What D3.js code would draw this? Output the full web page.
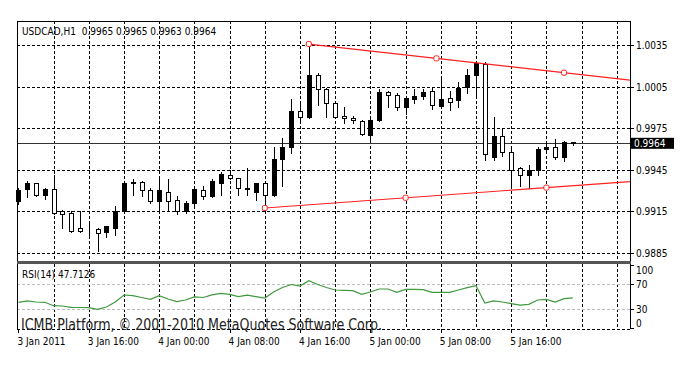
<!DOCTYPE html>
<html>
<head>
<meta charset="utf-8">
<script src="https://cdn.jsdelivr.net/npm/d3@7"></script>
<style>
  body { margin: 0; background: #fff; }
  svg { display: block; }
  text { font-family: "DejaVu Sans Condensed", "Liberation Sans", sans-serif; font-size: 10px; fill: #000; }
</style>
</head>
<body>
<svg id="chart" width="688" height="366"></svg>
<script>
// USDCAD H1 candles, one per hour starting 3 Jan 2011 08:00
let opens = [
  0.9922, 0.9931, 0.9935, 0.9927, 0.9931, 0.9915, 0.9914, 0.9903, 0.9901, 0.9902,
  0.9900, 0.9903, 0.9915, 0.9935, 0.9936, 0.9930, 0.9922, 0.9929, 0.9923, 0.9915,
  0.9921, 0.9930, 0.9926, 0.9935, 0.9941, 0.9939, 0.9932, 0.9929, 0.9935, 0.9927,
  0.9953, 0.9961, 0.9987, 0.9983, 1.0013, 1.0003, 0.9993, 0.9984, 0.9982, 0.9980,
  0.9970, 0.9981, 1.0001, 0.9999, 0.9990, 0.9996, 0.9998, 1.0002, 0.9991, 0.9997,
  0.9995, 1.0005, 1.0013, 1.0021, 0.9954, 0.9969, 0.9958, 0.9946, 0.9941, 0.9945,
  0.9960, 0.9961, 0.9954, 0.9965];
let highs = [
  0.9932, 0.9937, 0.9935, 0.9932, 0.9941, 0.9916, 0.9915, 0.9915, 0.9908, 0.9903,
  0.9904, 0.9919, 0.9936, 0.9938, 0.9937, 0.9932, 0.9938, 0.9938, 0.9926, 0.9922,
  0.9932, 0.9933, 0.9938, 0.9943, 0.9945, 0.9939, 0.9946, 0.9935, 0.9935, 0.9961,
  0.9968, 0.9996, 0.9994, 1.0036, 1.0015, 1.0004, 0.9993, 0.9990, 0.9984, 0.9981,
  0.9982, 1.0003, 1.0002, 1.0000, 0.9998, 1.0003, 1.0003, 1.0004, 1.0012, 1.0002,
  1.0008, 1.0018, 1.0023, 1.0023, 0.9983, 0.9974, 0.9961, 0.9947, 0.9948, 0.9961,
  0.9965, 0.9967, 0.9966, 0.9965];
let lows = [
  0.9920, 0.9925, 0.9926, 0.9924, 0.9913, 0.9903, 0.9900, 0.9900, 0.9897, 0.9886,
  0.9896, 0.9898, 0.9914, 0.9927, 0.9926, 0.9921, 0.9916, 0.9916, 0.9913, 0.9914,
  0.9919, 0.9924, 0.9925, 0.9927, 0.9938, 0.9927, 0.9927, 0.9923, 0.9917, 0.9926,
  0.9933, 0.9957, 0.9979, 0.9982, 0.9992, 0.9983, 0.9982, 0.9979, 0.9979, 0.9970,
  0.9965, 0.9980, 0.9990, 0.9988, 0.9985, 0.9993, 0.9996, 0.9989, 0.9990, 0.9988,
  0.9990, 1.0000, 0.9997, 0.9952, 0.9952, 0.9955, 0.9932, 0.9933, 0.9932, 0.9941,
  0.9957, 0.9953, 0.9951, 0.9963];
let closes = [
  0.9930, 0.9935, 0.9927, 0.9931, 0.9914, 0.9913, 0.9901, 0.9901, 0.9901, 0.9899,
  0.9904, 0.9915, 0.9935, 0.9936, 0.9930, 0.9922, 0.9930, 0.9922, 0.9915, 0.9921,
  0.9931, 0.9926, 0.9937, 0.9942, 0.9939, 0.9932, 0.9931, 0.9935, 0.9927, 0.9953,
  0.9961, 0.9987, 0.9983, 1.0013, 1.0003, 0.9993, 0.9983, 0.9982, 0.9981, 0.9971,
  0.9981, 1.0001, 0.9999, 0.9990, 0.9997, 0.9998, 1.0001, 0.9992, 0.9996, 0.9994,
  1.0004, 1.0013, 1.0022, 0.9956, 0.9969, 0.9958, 0.9945, 0.9941, 0.9945, 0.9960,
  0.9961, 0.9954, 0.9965, 0.9964];
let rsiValues = [
  40.7, 43.1, 41.2, 40.7, 35.3, 34.8, 32.7, 32.4, 32.1, 29.5,
  33.2, 41.2, 52.4, 51.3, 48.4, 45.5, 51.3, 46.0, 41.7, 44.4,
  49.5, 48.4, 52.7, 55.1, 53.5, 49.8, 52.1, 49.8, 47.6, 57.2,
  64.4, 69.2, 66.8, 75.3, 69.2, 64.4, 60.4, 59.9, 59.3, 53.5,
  57.2, 62.0, 62.0, 56.7, 61.5, 61.4, 60.9, 56.7, 56.7, 56.7,
  60.4, 64.2, 67.3, 39.6, 43.1, 41.2, 38.6, 36.1, 37.5, 44.4,
  45.5, 41.2, 46.5, 47.7];

let priceTicks = [0.9885, 0.9915, 0.9945, 0.9975, 1.0005, 1.0035];
let rsiTicks = [100, 70, 30, 0];
let rsiLevels = [70, 30];
let timeLabels = ["3 Jan 2011", "3 Jan 16:00", "4 Jan 00:00", "4 Jan 08:00",
                  "4 Jan 16:00", "5 Jan 00:00", "5 Jan 08:00", "5 Jan 16:00"];
let timeLabelBars = [0, 8, 16, 24, 32, 40, 48, 56];

// trend lines: [bar, price] anchors
let upperTrend = [[33, 1.00357], [62, 1.0015]];
let lowerTrend = [[28, 0.99173], [60, 0.9932]];

let lastPrice = 0.9964;
let title = "USDCAD,H1  0.9965 0.9965 0.9963 0.9964";
let rsiTitle = "RSI(14) 47.7126";

let candles = opens.map((o, i) => ({ i: i, o: o, h: highs[i], l: lows[i], c: closes[i] }));

let svg = d3.select("#chart");
svg.append("rect").attr("width", 688).attr("height", 366).attr("fill", "#fff");

let plotLeft = 17, plotRight = 630, plotTop = 21, mainBottom = 262, rsiTop = 264, rsiBottom = 329;

let x = d3.scaleLinear().domain([0, 69]).range([18.4, 18.4 + 8.8 * 69]);
let y = d3.scaleLinear().domain([0.9885, 1.0035]).range([252.7, 45]);
let yRsi = d3.scaleLinear().domain([0, 100]).range([327.75, 265.25]);

let px = v => Math.round(v) + 0.5;

// grid
let gridBars = d3.range(4, 70, 4);
svg.append("g").selectAll("line")
  .data(priceTicks)
  .enter().append("line")
  .attr("x1", plotLeft).attr("x2", plotRight)
  .attr("y1", d => px(y(d))).attr("y2", d => px(y(d)))
  .attr("stroke", "#000").attr("stroke-dasharray", "3,2");

svg.append("g").selectAll("line")
  .data(gridBars)
  .enter().append("line")
  .attr("x1", d => px(x(d))).attr("x2", d => px(x(d)))
  .attr("y1", plotTop).attr("y2", mainBottom)
  .attr("stroke", "#000").attr("stroke-dasharray", "3,2");

svg.append("g").selectAll("line")
  .data(gridBars)
  .enter().append("line")
  .attr("x1", d => px(x(d))).attr("x2", d => px(x(d)))
  .attr("y1", rsiTop).attr("y2", rsiBottom)
  .attr("stroke", "#000").attr("stroke-dasharray", "3,2");

svg.append("g").selectAll("line")
  .data(rsiLevels)
  .enter().append("line")
  .attr("x1", plotLeft).attr("x2", plotRight)
  .attr("y1", d => px(yRsi(d))).attr("y2", d => px(yRsi(d)))
  .attr("stroke", "#bbb").attr("stroke-dasharray", "3,2");

// current price line
svg.append("line")
  .attr("x1", plotLeft).attr("x2", plotRight)
  .attr("y1", px(y(lastPrice))).attr("y2", px(y(lastPrice)))
  .attr("stroke", "#333");

// candles
let cg = svg.append("g");
cg.selectAll("line")
  .data(candles)
  .enter().append("line")
  .attr("x1", d => px(x(d.i))).attr("x2", d => px(x(d.i)))
  .attr("y1", d => Math.round(y(d.h))).attr("y2", d => Math.round(y(d.l)) + 1)
  .attr("stroke", "#000");

cg.selectAll("rect")
  .data(candles)
  .enter().append("rect")
  .attr("x", d => Math.round(x(d.i)) - 2 + 0.5)
  .attr("y", d => Math.round(y(Math.max(d.o, d.c))) + 0.5)
  .attr("width", 4)
  .attr("height", d => Math.max(0, Math.round(y(Math.min(d.o, d.c))) - Math.round(y(Math.max(d.o, d.c)))))
  .attr("fill", d => d.c >= d.o ? "#000" : "#fff")
  .attr("stroke", "#000");

// trend lines
function drawTrend(pts) {
  let [a, b] = pts;
  let slope = (b[1] - a[1]) / (b[0] - a[0]);
  let endBar = x.invert(plotRight);
  let endPrice = a[1] + slope * (endBar - a[0]);
  svg.append("line")
    .attr("x1", x(a[0])).attr("y1", y(a[1]))
    .attr("x2", plotRight).attr("y2", y(endPrice))
    .attr("stroke", "#ff2020").attr("stroke-width", 1.2);
  let marks = [a, [(a[0] + b[0]) / 2, (a[1] + b[1]) / 2], b];
  svg.append("g").selectAll("rect")
    .data(marks)
    .enter().append("rect")
    .attr("x", d => x(d[0]) - 2.5).attr("y", d => y(d[1]) - 2.5)
    .attr("width", 5).attr("height", 5).attr("rx", 1.5)
    .attr("fill", "#fff").attr("stroke", "#ff2020");
}
drawTrend(upperTrend);
drawTrend(lowerTrend);

// RSI line
let rsiLine = d3.line().x((d, i) => x(i)).y(d => yRsi(d));
svg.append("path")
  .datum(rsiValues)
  .attr("d", rsiLine)
  .attr("fill", "none")
  .attr("stroke", "#3f9a3f")
  .attr("stroke-width", 1.2);

// frames
svg.append("rect")
  .attr("x", plotLeft + 0.5).attr("y", plotTop + 0.5)
  .attr("width", plotRight - plotLeft).attr("height", mainBottom - plotTop - 1)
  .attr("fill", "none").attr("stroke", "#000");
svg.append("rect")
  .attr("x", plotLeft).attr("y", mainBottom - 1)
  .attr("width", plotRight - plotLeft + 1).attr("height", rsiTop - mainBottom + 1)
  .attr("fill", "#555");
svg.append("line")
  .attr("x1", plotLeft + 0.5).attr("x2", plotLeft + 0.5).attr("y1", rsiTop).attr("y2", rsiBottom)
  .attr("stroke", "#000");
svg.append("line")
  .attr("x1", plotRight + 0.5).attr("x2", plotRight + 0.5).attr("y1", rsiTop).attr("y2", rsiBottom)
  .attr("stroke", "#000");
svg.append("line")
  .attr("x1", plotLeft).attr("x2", plotRight).attr("y1", rsiBottom + 0.5).attr("y2", rsiBottom + 0.5)
  .attr("stroke", "#000").attr("stroke-dasharray", "3,2");

// price axis
let pa = svg.append("g");
pa.selectAll("line")
  .data(priceTicks)
  .enter().append("line")
  .attr("x1", plotRight).attr("x2", plotRight + 4)
  .attr("y1", d => px(y(d))).attr("y2", d => px(y(d)))
  .attr("stroke", "#000");
pa.selectAll("text")
  .data(priceTicks)
  .enter().append("text")
  .attr("x", plotRight + 6)
  .attr("y", d => y(d) + 4)
  .text(d => d.toFixed(4));

// last price box
svg.append("rect")
  .attr("x", plotRight + 1).attr("y", y(lastPrice) - 5.5)
  .attr("width", 43).attr("height", 11)
  .attr("fill", "#000");
svg.append("text")
  .attr("x", plotRight + 4).attr("y", y(lastPrice) + 4)
  .style("fill", "#fff")
  .text(lastPrice.toFixed(4));

// RSI axis
let ra = svg.append("g");
ra.selectAll("line")
  .data(rsiTicks)
  .enter().append("line")
  .attr("x1", plotRight).attr("x2", plotRight + 4)
  .attr("y1", d => px(yRsi(d))).attr("y2", d => px(yRsi(d)))
  .attr("stroke", "#000");
ra.selectAll("text")
  .data(rsiTicks)
  .enter().append("text")
  .attr("x", plotRight + 6)
  .attr("y", d => d == 100 ? yRsi(d) + 9 : d == 0 ? yRsi(d) - 1 : yRsi(d) + 4)
  .text(d => d);

// time axis
let ta = svg.append("g");
ta.selectAll("line")
  .data(timeLabelBars)
  .enter().append("line")
  .attr("x1", d => px(x(d))).attr("x2", d => px(x(d)))
  .attr("y1", rsiBottom).attr("y2", rsiBottom + 4)
  .attr("stroke", "#000");
ta.selectAll("text")
  .data(timeLabelBars)
  .enter().append("text")
  .attr("x", d => x(d) - 1)
  .attr("y", 345)
  .text((d, i) => timeLabels[i]);

// titles
svg.append("text").attr("x", 22).attr("y", 35).style("white-space", "pre").text(title);
svg.append("text").attr("x", 22).attr("y", 278).text(rsiTitle);

svg.append("text")
  .attr("x", 21).attr("y", 330)
  .attr("textLength", 361).attr("lengthAdjust", "spacingAndGlyphs")
  .style("font-size", "15px").style("fill", "#222")
  .text("ICMB Platform, © 2001-2010 MetaQuotes Software Corp.");
</script>
</body>
</html>
